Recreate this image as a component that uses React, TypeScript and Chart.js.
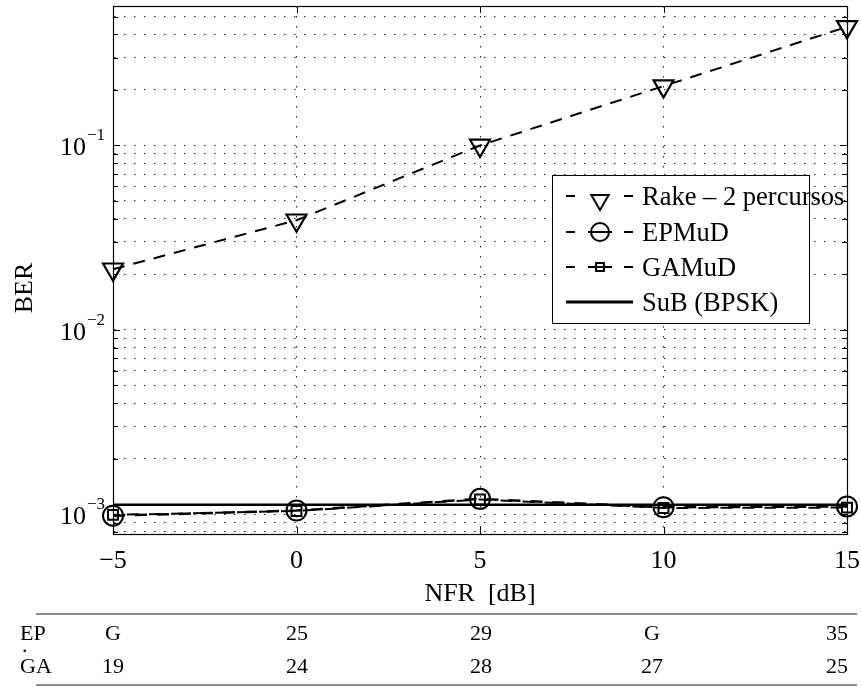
import React, { useEffect, useRef } from "react";
import { Chart, registerables } from "chart.js";

Chart.register(...registerables);

// ---- data ----
const nfrDb = [-5, 0, 5, 10, 15];
const rakeBer = [0.0213, 0.0393, 0.1, 0.21, 0.44];
const epmudBer = [0.00098, 0.001045, 0.00121, 0.00109, 0.0011];
const gamudBer = [0.00099, 0.00104, 0.0012, 0.00108, 0.001085];
const subBer = [0.001125, 0.001125, 0.001125, 0.001125, 0.001125];
const seriesNames = ["Rake – 2 percursos", "EPMuD", "GAMuD", "SuB (BPSK)"];

const xTickValues = [-5, 0, 5, 10, 15];
const xTickLabels = ["−5", "0", "5", "10", "15"];
const yGridValues = [
  0.0008, 0.0009, 0.001, 0.002, 0.003, 0.004, 0.005, 0.006, 0.007, 0.008, 0.009,
  0.01, 0.02, 0.03, 0.04, 0.05, 0.06, 0.07, 0.08, 0.09, 0.1, 0.2, 0.3, 0.4, 0.5,
];
const yDecadeValues = [0.001, 0.01, 0.1];
const yDecadeExponents = ["−3", "−2", "−1"];
const xAxisTitle = "NFR  [dB]";
const yAxisTitle = "BER";

const tableRowLabels = ["EP", "GA"];
const tableEP = ["G", "25", "29", "G", "35"];
const tableGA = ["19", "24", "28", "27", "25"];

const FONT = '"Liberation Serif", "Times New Roman", serif';

function strokeMarker(ctx: CanvasRenderingContext2D, style: string, x: number, y: number, r: number) {
  ctx.beginPath();
  if (style === "triangleDown") {
    for (let i = 0; i < 3; i++) {
      const a = Math.PI + (i * 2 * Math.PI) / 3;
      const px = x + Math.sin(a) * r;
      const py = y - Math.cos(a) * r;
      if (i === 0) ctx.moveTo(px, py);
      else ctx.lineTo(px, py);
    }
    ctx.closePath();
  } else if (style === "circle") {
    ctx.arc(x, y, r, 0, Math.PI * 2);
  } else if (style === "rect") {
    const s = Math.SQRT1_2 * r;
    ctx.rect(x - s, y - s, 2 * s, 2 * s);
  }
  ctx.stroke();
}

const decorPlugin = {
  id: "decor",
  afterDraw(chart: any) {
    const ctx: CanvasRenderingContext2D = chart.ctx;
    const { left, right, top, bottom } = chart.chartArea;
    const xs = chart.scales.x;
    const ys = chart.scales.y;
    ctx.save();
    ctx.setLineDash([]);
    // frame
    ctx.strokeStyle = "#000";
    ctx.lineWidth = 1.2;
    ctx.strokeRect(Math.round(left) + 0.5, Math.round(top) + 0.5, Math.round(right - left), Math.round(bottom - top));
    // inward ticks
    ctx.lineWidth = 1;
    ctx.beginPath();
    xTickValues.forEach((v) => {
      const px = Math.round(xs.getPixelForValue(v)) + 0.5;
      ctx.moveTo(px, bottom);
      ctx.lineTo(px, bottom - 7);
      ctx.moveTo(px, top);
      ctx.lineTo(px, top + 7);
    });
    yGridValues.forEach((v) => {
      const py = Math.round(ys.getPixelForValue(v)) + 0.5;
      const len = yDecadeValues.includes(v) ? 7 : 5;
      ctx.moveTo(left, py);
      ctx.lineTo(left + len, py);
      ctx.moveTo(right, py);
      ctx.lineTo(right - len, py);
    });
    ctx.stroke();

    // y tick labels 10^k
    ctx.fillStyle = "#000";
    ctx.textBaseline = "alphabetic";
    yDecadeValues.forEach((v, i) => {
      const py = ys.getPixelForValue(v);
      ctx.font = `17px ${FONT}`;
      const sup = yDecadeExponents[i];
      const supW = ctx.measureText(sup).width;
      const supRight = left - 8;
      ctx.textAlign = "left";
      ctx.fillText(sup, supRight - supW, py - 5);
      ctx.font = `26px ${FONT}`;
      ctx.textAlign = "right";
      ctx.fillText("10", supRight - supW - 1, py + 10);
    });

    // x tick labels
    ctx.font = `26px ${FONT}`;
    ctx.textAlign = "center";
    xTickValues.forEach((v, i) => {
      const px = xs.getPixelForValue(v);
      ctx.fillText(xTickLabels[i], px, bottom + 34);
    });

    // axis titles
    ctx.fillText(xAxisTitle, (left + right) / 2, bottom + 67);
    ctx.save();
    ctx.translate(32, 288);
    ctx.rotate(-Math.PI / 2);
    ctx.textAlign = "center";
    ctx.fillText(yAxisTitle, 0, 0);
    ctx.restore();

    // legend
    const bx = 552, by = 175, bw = 257, bh = 148;
    ctx.fillStyle = "#fff";
    ctx.fillRect(bx, by, bw, bh);
    ctx.strokeStyle = "#000";
    ctx.lineWidth = 1;
    ctx.strokeRect(bx + 0.5, by + 0.5, bw, bh);
    const rowsY = [196, 232, 267, 302];
    const styles = ["triangleDown", "circle", "rect", "solid"];
    const radii = [10, 9, 5.5, 0];
    ctx.font = `26.5px ${FONT}`;
    rowsY.forEach((ry, i) => {
      ctx.strokeStyle = "#000";
      if (styles[i] === "solid") {
        ctx.lineWidth = 3;
        ctx.beginPath();
        ctx.moveTo(566, ry);
        ctx.lineTo(633, ry);
        ctx.stroke();
      } else {
        ctx.lineWidth = 2;
        ctx.beginPath();
        ctx.moveTo(566, ry);
        ctx.lineTo(575, ry);
        ctx.moveTo(624, ry);
        ctx.lineTo(633, ry);
        if (styles[i] !== "triangleDown") {
          ctx.moveTo(588, ry);
          ctx.lineTo(612, ry);
        }
        ctx.stroke();
        ctx.lineWidth = 2;
        const cy = styles[i] === "triangleDown" ? ry + 4 : ry;
        strokeMarker(ctx, styles[i], 600, cy, radii[i]);
      }
      ctx.fillStyle = "#000";
      ctx.textAlign = "left";
      ctx.fillText(seriesNames[i], 642, ry + 9);
    });
    ctx.restore();
  },
};

export default function App() {
  const canvasRef = useRef<HTMLCanvasElement | null>(null);

  useEffect(() => {
    const canvas = canvasRef.current;
    if (!canvas) return;
    const pts = (arr: number[]) => nfrDb.map((x, i) => ({ x, y: arr[i] }));
    const chart = new Chart(canvas, {
      type: "line",
      data: {
        datasets: [
          {
            label: seriesNames[3],
            data: pts(subBer),
            borderColor: "#000",
            borderWidth: 2.5,
            pointRadius: 0,
            fill: false,
            order: 0,
          },
          {
            label: seriesNames[0],
            data: pts(rakeBer),
            borderColor: "#000",
            borderWidth: 2,
            borderDash: [12, 9],
            pointStyle: "triangle",
            rotation: 180,
            pointRadius: 11.5,
            pointBorderWidth: 2.2,
            pointBorderColor: "#000",
            pointBackgroundColor: "rgba(0,0,0,0)",
            fill: false,
            clip: false,
            order: 1,
          },
          {
            label: seriesNames[1],
            data: pts(epmudBer),
            borderColor: "#000",
            borderWidth: 2.5,
            borderDash: [12, 10],
            pointStyle: "circle",
            pointRadius: 10,
            pointBorderWidth: 2,
            pointBorderColor: "#000",
            pointBackgroundColor: "rgba(0,0,0,0)",
            fill: false,
            clip: false,
            order: 2,
          },
          {
            label: seriesNames[2],
            data: pts(gamudBer),
            borderColor: "#000",
            borderWidth: 2,
            borderDash: [12, 10],
            borderDashOffset: 8,
            pointStyle: "rect",
            pointRadius: 7,
            pointBorderWidth: 2,
            pointBorderColor: "#000",
            pointBackgroundColor: "rgba(0,0,0,0)",
            fill: false,
            clip: false,
            order: 3,
          },
        ] as any,
      },
      options: {
        animation: false,
        responsive: false,
        maintainAspectRatio: false,
        devicePixelRatio: 1,
        layout: { autoPadding: false, padding: { left: 113, top: 6, right: 14, bottom: 154 } },
        plugins: { legend: { display: false }, tooltip: { enabled: false }, title: { display: false } },
        scales: {
          x: {
            type: "linear",
            min: -5,
            max: 15,
            afterBuildTicks: (axis: any) => {
              axis.ticks = xTickValues.map((v) => ({ value: v }));
            },
            ticks: { display: false },
            grid: { color: "#222", lineWidth: 1, drawTicks: false },
            border: { display: true, color: "#000", width: 1, dash: [1.5, 8.5] },
          },
          y: {
            type: "logarithmic",
            min: 0.00078,
            max: 0.571,
            afterBuildTicks: (axis: any) => {
              axis.ticks = yGridValues.map((v) => ({ value: v }));
            },
            ticks: { display: false },
            grid: { color: "#222", lineWidth: 1, drawTicks: false },
            border: { display: true, color: "#000", width: 1, dash: [1.5, 8.5] },
          },
        },
      } as any,
      plugins: [decorPlugin],
    });
    return () => chart.destroy();
  }, []);

  const colCenters = [113, 297, 481, 652, 837];
  const cellStyle = (cx: number, cy: number): React.CSSProperties => ({
    position: "absolute",
    left: cx - 30,
    width: 60,
    top: cy - 11,
    height: 22,
    lineHeight: "22px",
    textAlign: "center",
    fontFamily: FONT,
    fontSize: 22,
    color: "#000",
    whiteSpace: "nowrap",
  });
  const labelStyle = (cx: number, cy: number): React.CSSProperties => ({
    position: "absolute",
    left: cx,
    top: cy - 11,
    height: 22,
    lineHeight: "22px",
    fontFamily: FONT,
    fontSize: 22,
    color: "#000",
  });
  const lineStyle = (y: number): React.CSSProperties => ({
    position: "absolute",
    left: 36,
    width: 821,
    top: y,
    height: 2,
    background: "#8c8c8c",
  });

  return (
    <div style={{ position: "absolute", left: 0, top: 0, width: 861, height: 688, background: "#fff", overflow: "hidden" }}>
      <canvas ref={canvasRef} width={861} height={688} style={{ display: "block", position: "absolute", left: 0, top: 0 }} />
      <div style={lineStyle(613)} />
      <div style={labelStyle(20, 633)}>{tableRowLabels[0]}</div>
      {tableEP.map((t, i) => (
        <div key={"ep" + i} style={cellStyle(colCenters[i], 633)}>{t}</div>
      ))}
      <div style={labelStyle(22, 645)}>.</div>
      <div style={labelStyle(20, 666)}>{tableRowLabels[1]}</div>
      {tableGA.map((t, i) => (
        <div key={"ga" + i} style={cellStyle(colCenters[i], 666)}>{t}</div>
      ))}
      <div style={lineStyle(684)} />
    </div>
  );
}
